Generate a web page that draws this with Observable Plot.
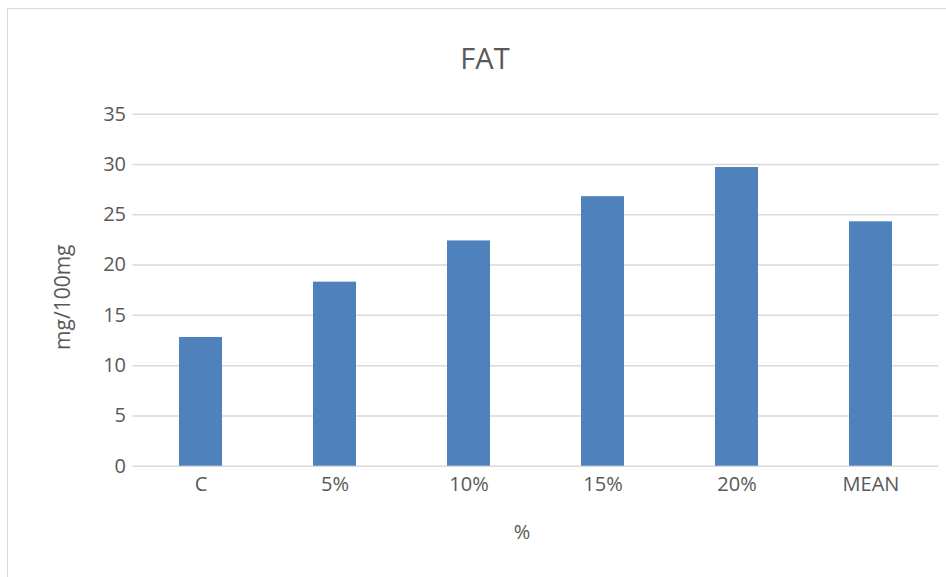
<!DOCTYPE html>
<html>
<head>
<meta charset="utf-8">
<script src="https://cdn.jsdelivr.net/npm/d3@7"></script>
<script src="https://cdn.jsdelivr.net/npm/@observablehq/plot@0.6"></script>
<style>
  html, body { margin: 0; padding: 0; background: #fff; overflow: hidden; }
  #wrap { position: relative; width: 946px; height: 577px; }
  #frame { position: absolute; left: 7px; top: 8px; width: 1000px; height: 1000px; border: 1px solid #d9d9d9; box-sizing: border-box; pointer-events: none; }
  #chart { position: absolute; left: 0; top: 0; }
</style>
</head>
<body>
<div id="wrap">
  <div id="frame"></div>
  <div id="chart"></div>
</div>
<script>
const categories = ["C", "5%", "10%", "15%", "20%", "MEAN"];
const values = [12.8, 18.3, 22.4, 26.8, 29.7, 24.3];
const yTicks = [0, 5, 10, 15, 20, 25, 30, 35];
const title = "FAT";
const xTitle = "%";
const yTitle = "mg/100mg";

const data = categories.map((c, i) => ({cat: c, value: values[i]}));
const font = "'Open Sans', 'Noto Sans', sans-serif";
const grey = "#595959";

const chart = Plot.plot({
  width: 946,
  height: 577,
  marginLeft: 132.5,
  marginRight: 7.5,
  marginTop: 113.7,
  marginBottom: 111.3,
  style: {fontFamily: font, fontSize: "20px", color: grey, background: "transparent"},
  x: {domain: categories, paddingInner: 0.68, paddingOuter: 0.34, label: null},
  y: {domain: [0, 35], ticks: yTicks, label: null},
  marks: [
    Plot.gridY(yTicks, {stroke: "#d9d9d9", strokeOpacity: 1, strokeWidth: 1.5}),
    Plot.barY(data, {x: "cat", y: "value", fill: "#4f81bd"}),
    Plot.axisY(yTicks, {tickSize: 0, tickPadding: 7, fontSize: 20, fill: grey, label: null}),
    Plot.axisX({tickSize: 0, tickPadding: 11, fontSize: 20, fill: grey, label: null}),
    Plot.text([title], {frameAnchor: "top", dx: -51, dy: -45.5, fontSize: 29, fill: grey, lineAnchor: "bottom"}),
    Plot.text([xTitle], {frameAnchor: "bottom", dx: -14, dy: 73, fontSize: 20, fill: grey, lineAnchor: "bottom"}),
    Plot.text([yTitle], {frameAnchor: "left", dx: -69.5, dy: 7, rotate: -90, textAnchor: "middle", fontSize: 21, fill: grey})
  ]
});
document.getElementById("chart").appendChild(chart);
</script>
</body>
</html>
